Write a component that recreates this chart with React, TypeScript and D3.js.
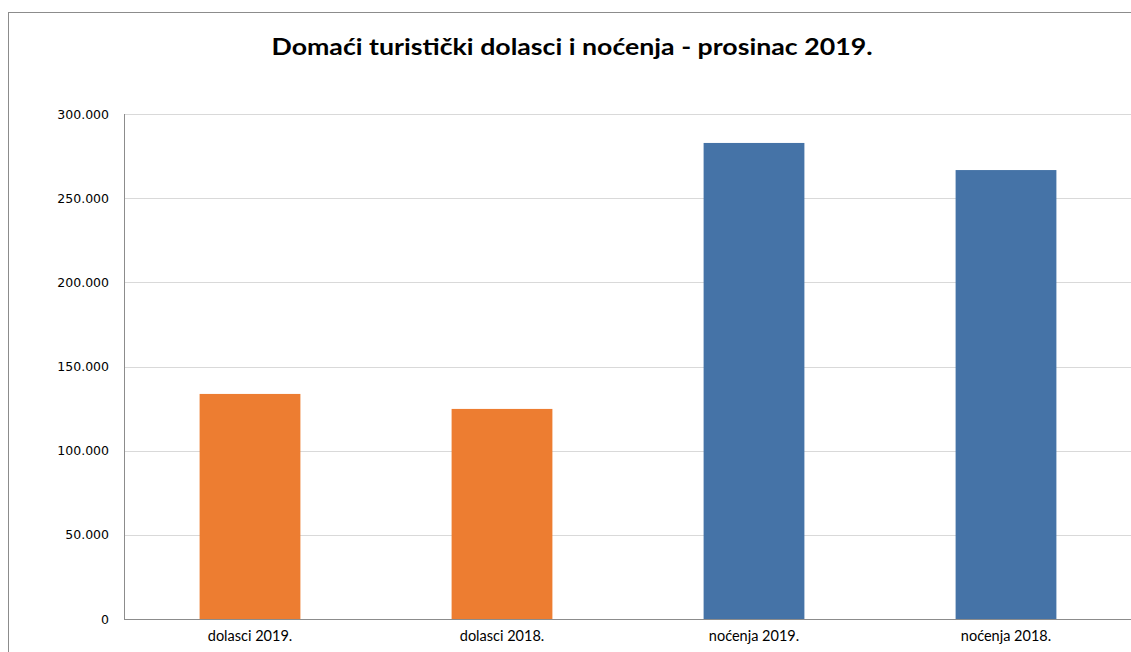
import React from "react";
import * as d3 from "d3";

const categories = ["dolasci 2019.", "dolasci 2018.", "noćenja 2019.", "noćenja 2018."];
const values = [133700, 124800, 282800, 266700];
const barColors = ["#ED7D31", "#ED7D31", "#4573A7", "#4573A7"];
const yTicks = [0, 50000, 100000, 150000, 200000, 250000, 300000];
const title = "Domaći turistički dolasci i noćenja - prosinac 2019.";

const W = 1131;
const H = 652;
const M = { left: 124, right: 1132, top: 114, bottom: 619 };

const fmt = (v: number) => (v === 0 ? "0" : d3.format(",")(v).replace(/,/g, "."));

export default function App() {
  const x = d3.scaleBand<string>().domain(categories).range([M.left, M.right]).paddingInner(0.6).paddingOuter(0.3);
  const y = d3.scaleLinear().domain([0, 300000]).range([M.bottom, M.top]);
  const font = "Lato, 'Open Sans', 'Noto Sans', sans-serif";
  const tickFont = "'DejaVu Sans', Verdana, sans-serif";
  return (
    <svg width={W} height={H} style={{ position: "absolute", left: 0, top: 0, background: "#fff" }}>
      <rect x={8.5} y={12.5} width={W + 10} height={H + 10} fill="#fff" stroke="#8c8c8c" strokeWidth={1} />
      <text x={572} y={55} textAnchor="middle" fontFamily={font} fontWeight="bold" fontSize={23} fill="#000" textLength={601} lengthAdjust="spacingAndGlyphs">{title}</text>
      {yTicks.map((t) => (
        <g key={t}>
          {t > 0 && <line x1={M.left} x2={M.right} y1={Math.round(y(t)) + 0.5} y2={Math.round(y(t)) + 0.5} stroke="#d9d9d9" strokeWidth={1} />}
          <text x={109} y={y(t) + 4.5} textAnchor="end" fontFamily={tickFont} fontSize={12.5} fill="#000">{fmt(t)}</text>
        </g>
      ))}
      {categories.map((c, i) => (
        <rect key={c} x={x(c)} y={y(values[i])} width={x.bandwidth()} height={y(0) - y(values[i])} fill={barColors[i]} />
      ))}
      <line x1={M.left + 0.5} x2={M.left + 0.5} y1={M.top} y2={M.bottom} stroke="#8c8c8c" strokeWidth={1} />
      <line x1={M.left} x2={M.right} y1={M.bottom + 0.5} y2={M.bottom + 0.5} stroke="#8c8c8c" strokeWidth={1} />
      {categories.map((c) => (
        <text key={c} x={(x(c) as number) + x.bandwidth() / 2} y={641} textAnchor="middle" fontFamily={font} fontSize={14.5} fill="#000">{c}</text>
      ))}
    </svg>
  );
}
